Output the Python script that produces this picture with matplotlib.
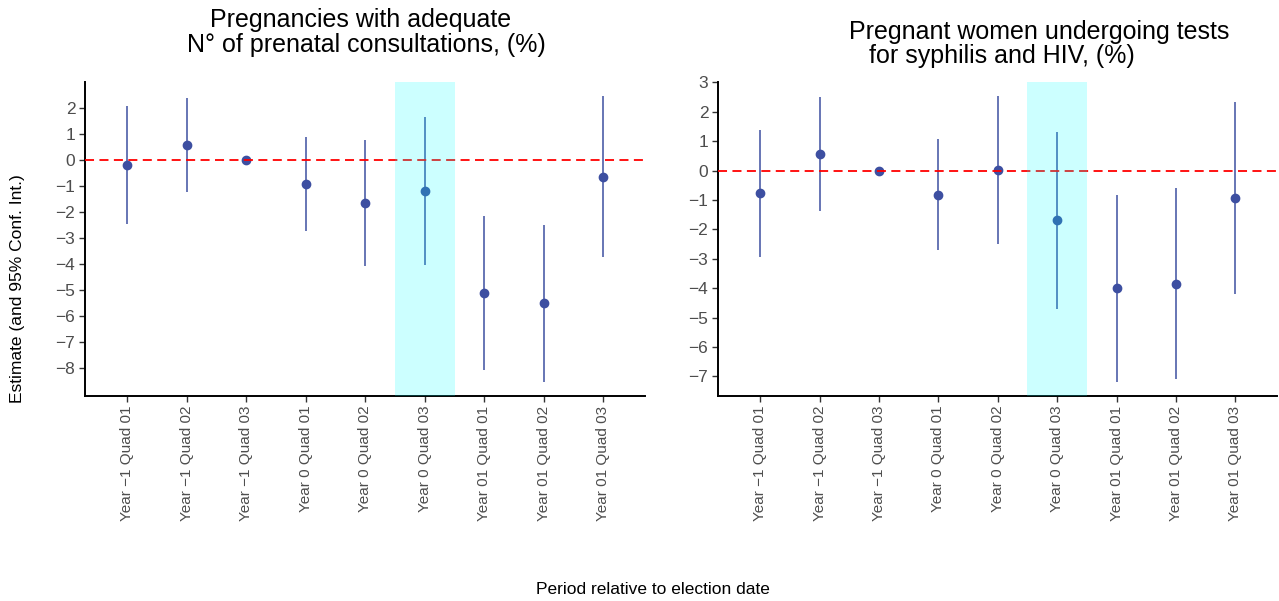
import numpy as np
import matplotlib
matplotlib.use("Agg")
from matplotlib import pyplot as plt

plt.rcParams['font.family'] = ['Liberation Sans', 'DejaVu Sans']

# Periods on the x axis
periods = ["Year −1 Quad 01", "Year −1 Quad 02", "Year −1 Quad 03",
           "Year 0 Quad 01", "Year 0 Quad 02", "Year 0 Quad 03",
           "Year 01 Quad 01", "Year 01 Quad 02", "Year 01 Quad 03"]

# Panel 1: prenatal consultations
est_prenatal = [-0.20, 0.58, 0.0, -0.92, -1.63, -1.17, -5.10, -5.49, -0.64]
lo_prenatal = [-2.47, -1.24, 0.0, -2.74, -4.05, -4.01, -8.05, -8.51, -3.73]
hi_prenatal = [2.09, 2.38, 0.0, 0.90, 0.78, 1.67, -2.14, -2.49, 2.45]

# Panel 2: syphilis and HIV tests
est_tests = [-0.77, 0.57, 0.0, -0.82, 0.03, -1.68, -4.00, -3.84, -0.94]
lo_tests = [-2.94, -1.36, 0.0, -2.69, -2.49, -4.69, -7.18, -7.08, -4.18]
hi_tests = [1.39, 2.49, 0.0, 1.06, 2.53, 1.33, -0.82, -0.59, 2.32]

yticks_prenatal = list(range(-8, 3))
yticks_tests = list(range(-7, 4))

highlight = "Year 0 Quad 03"

W, H = 1279, 601
fig = plt.figure(figsize=(W / 100, H / 100), dpi=100)


def px_axes(x0, x1, y0, y1):
    # axes box given in pixel coordinates (y from top)
    return fig.add_axes([x0 / W, 1 - y1 / H, (x1 - x0) / W, (y1 - y0) / H])


def draw_panel(ax, est, lo, hi, yticks):
    x = np.arange(1, len(periods) + 1)
    col = '#3D4FA1'
    ax.vlines(x, lo, hi, color=col, linewidth=1.1, zorder=2)
    ax.plot(x, est, 'o', color=col, markersize=6, zorder=3)
    ax.axhline(0, color='red', linestyle=(0, (5, 3)), linewidth=1.3, zorder=4)
    k = periods.index(highlight) + 1
    ax.axvspan(k - 0.5, k + 0.5, color='cyan', alpha=0.2, linewidth=0, zorder=5)

    ymin, ymax = min(lo), max(hi)
    pad = 0.05 * (ymax - ymin)
    ax.set_ylim(ymin - pad, ymax + pad)
    ax.set_xlim(0.29, len(periods) + 0.7)
    ax.set_yticks(yticks)
    ax.set_yticklabels([str(t).replace('-', '−') for t in yticks])
    ax.set_xticks(x)
    ax.set_xticklabels(periods, rotation=90)

    for s in ['top', 'right']:
        ax.spines[s].set_visible(False)
    for s in ['left', 'bottom']:
        ax.spines[s].set_linewidth(1.4)
        ax.spines[s].set_color('black')
    ax.tick_params(axis='both', length=4, width=1.0, color='#333333',
                   labelcolor='#4D4D4D', pad=3)
    ax.tick_params(axis='x', labelsize=11)
    ax.tick_params(axis='y', labelsize=12.5)


ax1 = px_axes(85, 645, 82, 396)
draw_panel(ax1, est_prenatal, lo_prenatal, hi_prenatal, yticks_prenatal)

ax2 = px_axes(718, 1277, 82, 396)
draw_panel(ax2, est_tests, lo_tests, hi_tests, yticks_tests)

# titles, two lines each, placed as in the original
tsize = 18
fig.text(210 / W, 1 - 27.5 / H, "Pregnancies with adequate", ha='left',
         va='baseline', fontsize=tsize)
fig.text(187 / W, 1 - 52 / H, "N° of prenatal consultations, (%)", ha='left',
         va='baseline', fontsize=tsize)
fig.text(849 / W, 1 - 39 / H, "Pregnant women undergoing tests", ha='left',
         va='baseline', fontsize=tsize)
fig.text(869 / W, 1 - 63 / H, "for syphilis and HIV, (%)", ha='left',
         va='baseline', fontsize=tsize)

fig.text(18 / W, 1 - 289 / H, "Estimate (and 95% Conf. Int.)", rotation=90,
         ha='center', va='center', fontsize=12.5)
fig.text(653 / W, 1 - 590 / H, "Period relative to election date",
         ha='center', va='center', fontsize=12.5)

fig.savefig("out.png", dpi=100)
